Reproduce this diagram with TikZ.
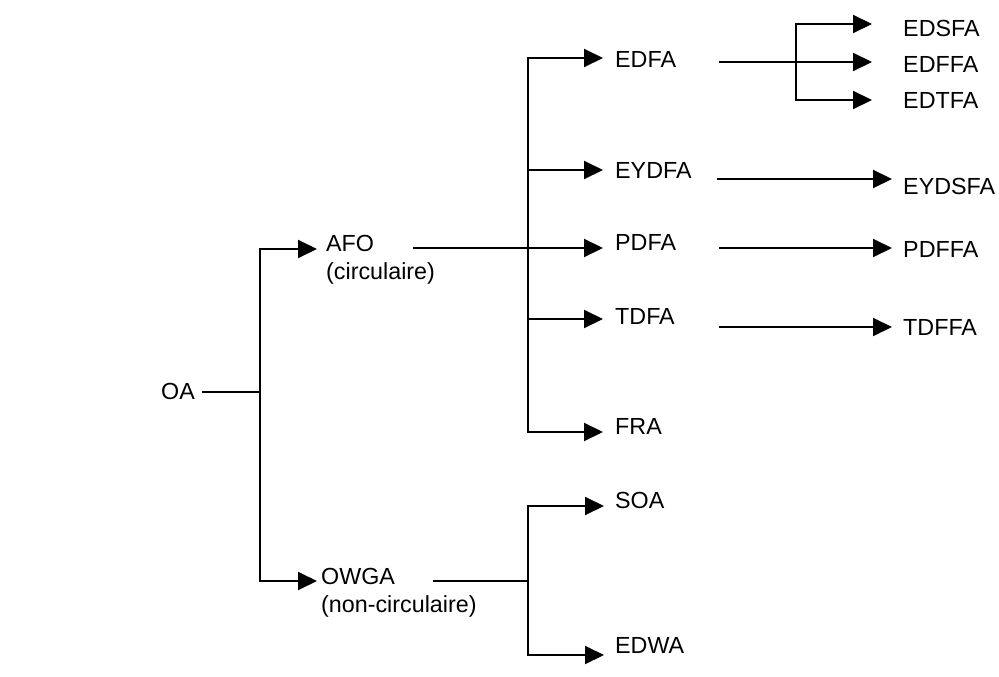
\documentclass[tikz,border=0pt]{standalone}
\usepackage{fontspec}
\setmainfont{Liberation Sans}
\usetikzlibrary{arrows.meta}
\begin{document}
\begin{tikzpicture}[x=1pt,y=-1pt,
  lbl/.style={anchor=base west,inner sep=0pt,font=\fontsize{23.3}{28}\selectfont},
  lbl2/.style={lbl,align=left},
  conn/.style={line width=2pt,line join=miter},
  arr/.style={conn,-{Triangle[length=19pt,width=18pt]}}]
\useasboundingbox (0,0) rectangle (999,677);
\fill[white] (0,0) rectangle (999,677);
% labels
\node[lbl] (oa) at (161,399) {OA};
\node[lbl2] (afo) at (326,279) {AFO\\(circulaire)};
\node[lbl2] (owga) at (321,612) {OWGA\\(non-circulaire)};
\node[lbl] (edfa) at (615,68) {EDFA};
\node[lbl] (eydfa) at (615,178) {EYDFA};
\node[lbl] (pdfa) at (615,250) {PDFA};
\node[lbl] (tdfa) at (615,324) {TDFA};
\node[lbl] (fra) at (615,434) {FRA};
\node[lbl] (soa) at (615,508) {SOA};
\node[lbl] (edwa) at (615,653) {EDWA};
\node[lbl] (edsfa) at (903,37) {EDSFA};
\node[lbl] (edffa) at (903,73) {EDFFA};
\node[lbl] (edtfa) at (903,109) {EDTFA};
\node[lbl] (eydsfa) at (903,194) {EYDSFA};
\node[lbl] (pdffa) at (903,257) {PDFFA};
\node[lbl] (tdffa) at (903,335) {TDFFA};
% connector points
\coordinate (oaR) at (202,392);
\coordinate (jA) at (260,392);
\coordinate (afoT) at (317,249);
\coordinate (owgaT) at (317,581);
\coordinate (afoR) at (413,248);
\coordinate (jB) at (528,248);
\coordinate (edfaT) at (603,58);
\coordinate (eydfaT) at (603,170);
\coordinate (pdfaT) at (603,248);
\coordinate (tdfaT) at (603,319);
\coordinate (fraT) at (603,432);
\coordinate (owgaR) at (433,581);
\coordinate (jC) at (528,581);
\coordinate (soaT) at (604,506);
\coordinate (edwaT) at (604,655);
\coordinate (edfaR) at (719,62);
\coordinate (jD) at (796,62);
\coordinate (edsfaT) at (872,24);
\coordinate (edffaT) at (872,62);
\coordinate (edtfaT) at (872,100);
\coordinate (eydfaR) at (717,179);
\coordinate (eydsfaT) at (892,179);
\coordinate (pdfaR) at (719,248);
\coordinate (pdffaT) at (892,248);
\coordinate (tdfaR) at (719,327);
\coordinate (tdffaT) at (892,327);
% OA tree
\draw[conn] (oaR) -- (jA);
\draw[arr] (jA) |- (afoT);
\draw[arr] (jA) |- (owgaT);
% AFO tree
\draw[conn] (afoR) -- (jB);
\draw[arr] (jB) |- (edfaT);
\draw[arr] (jB) |- (eydfaT);
\draw[arr] (jB) -- (pdfaT);
\draw[arr] (jB) |- (tdfaT);
\draw[arr] (jB) |- (fraT);
% OWGA tree
\draw[conn] (owgaR) -- (jC);
\draw[arr] (jC) |- (soaT);
\draw[arr] (jC) |- (edwaT);
% EDFA tree
\draw[arr] (edfaR) -- (edffaT);
\draw[arr] (jD) |- (edsfaT);
\draw[arr] (jD) |- (edtfaT);
% others
\draw[arr] (eydfaR) -- (eydsfaT);
\draw[arr] (pdfaR) -- (pdffaT);
\draw[arr] (tdfaR) -- (tdffaT);
\end{tikzpicture}
\end{document}
